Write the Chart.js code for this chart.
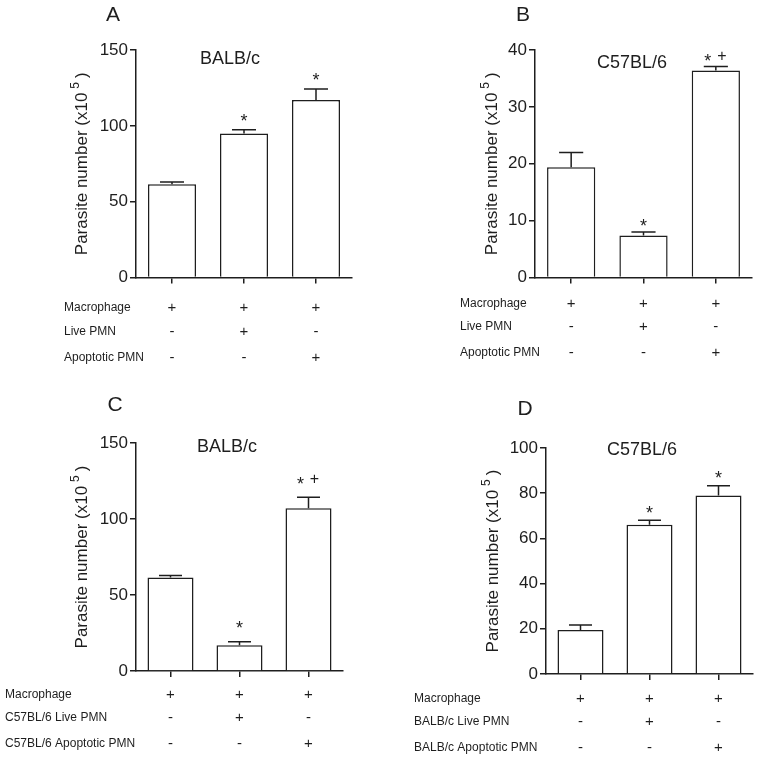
<!DOCTYPE html>
<html><head><meta charset="utf-8">
<script src="https://cdn.jsdelivr.net/npm/chart.js@4"></script>
<style>
html,body{margin:0;padding:0;background:#fff;}
#wrap{position:relative;width:757px;height:759px;background:#fff;}
canvas{position:absolute;left:0;top:0;}
</style></head><body>
<div id="wrap">
<canvas id="cA" width="757" height="759"></canvas>
<canvas id="cB" width="757" height="759"></canvas>
<canvas id="cC" width="757" height="759"></canvas>
<canvas id="cD" width="757" height="759"></canvas>
</div>
<script>
// ---------- data ----------
const categories = ['Macrophage', 'Macrophage + Live PMN', 'Macrophage + Apoptotic PMN'];

const valuesA = [61.5, 95, 117];
const semA    = [1.5, 2.5, 7.3];
const marksA  = ['', '*', '*'];
const ticksA  = [0, 50, 100, 150];

const valuesB = [19.4, 7.4, 36.4];
const semB    = [2.6, 0.6, 0.7];
const marksB  = ['', '*', '*+'];
const ticksB  = [0, 10, 20, 30, 40];

const valuesC = [61.5, 17, 107];
const semC    = [1.3, 2.2, 7.3];
const marksC  = ['', '*', '*+'];
const ticksC  = [0, 50, 100, 150];

const valuesD = [19.5, 66, 79];
const semD    = [2.2, 2, 4.3];
const marksD  = ['', '*', '*'];
const ticksD  = [0, 20, 40, 60, 80, 100];

const macrophageSigns = ['+', '+', '+'];
const liveSigns       = ['-', '+', '-'];
const apoptoticSigns  = ['-', '-', '+'];

const rowLabelsAB = ['Macrophage', 'Live PMN', 'Apoptotic PMN'];
const rowLabelsC  = ['Macrophage', 'C57BL/6 Live PMN', 'C57BL/6 Apoptotic PMN'];
const rowLabelsD  = ['Macrophage', 'BALB/c Live PMN', 'BALB/c Apoptotic PMN'];

const yTitleMain = 'Parasite number (x10';
const yTitleSup = '5';
const yTitleEnd = ')';

// ---------- layout ----------
const FONT = '"Liberation Sans", Arial, Helvetica, sans-serif';
const INK = '#1e1e1e';
const Y_BOX = 40;

const panels = [
  {canvas:'cA', letter:'A', strain:'BALB/c', values:valuesA, sem:semA, marks:marksA, ticks:ticksA, rowLabels:rowLabelsAB,
   area:{l:136, r:352, t:50, b:277.5}, letterPos:[113,15], titlePos:[230,59], yTitleX:82, rowLabelX:64, rowDy:[30,54,80], markGap:13},
  {canvas:'cB', letter:'B', strain:'C57BL/6', values:valuesB, sem:semB, marks:marksB, ticks:ticksB, rowLabels:rowLabelsAB,
   area:{l:535, r:752, t:50, b:277.5}, letterPos:[523,15], titlePos:[632,63], yTitleX:492, rowLabelX:460, rowDy:[26,49,75], markGap:10},
  {canvas:'cC', letter:'C', strain:'BALB/c', values:valuesC, sem:semC, marks:marksC, ticks:ticksC, rowLabels:rowLabelsC,
   area:{l:136, r:343, t:443, b:671}, letterPos:[115,405], titlePos:[227,447], yTitleX:82, rowLabelX:5, rowDy:[24,47,73], markGap:18},
  {canvas:'cD', letter:'D', strain:'C57BL/6', values:valuesD, sem:semD, marks:marksD, ticks:ticksD, rowLabels:rowLabelsD,
   area:{l:546, r:753, t:448, b:674}, letterPos:[525,409], titlePos:[642,450], yTitleX:493, rowLabelX:414, rowDy:[25,48,74], markGap:12}
];

function decorPlugin(p){
  return {
    id:'decor_'+p.letter,
    afterDatasetsDraw(chart){
      const ctx = chart.ctx;
      const ys = chart.scales.y;
      const meta = chart.getDatasetMeta(0);
      ctx.save();
      ctx.strokeStyle = INK;
      ctx.lineWidth = 1.5;
      meta.data.forEach((el, i) => {
        const yTop = ys.getPixelForValue(p.values[i] + p.sem[i]);
        const half = el.width / 4;
        ctx.beginPath();
        ctx.moveTo(el.x, el.y);
        ctx.lineTo(el.x, yTop);
        ctx.moveTo(el.x - half, yTop);
        ctx.lineTo(el.x + half, yTop);
        ctx.stroke();
        // significance marks
        const m = p.marks[i];
        if (m) {
          const cy = yTop - p.markGap;
          ctx.fillStyle = INK;
          ctx.textAlign = 'center';
          ctx.textBaseline = 'alphabetic';
          const hasPlus = m.indexOf('+') >= 0;
          const sx = hasPlus ? el.x - 8 : el.x;
          ctx.font = '18px ' + FONT;
          ctx.fillText('*', sx, cy + 0.58 * 18);
          if (hasPlus) {
            ctx.font = '16px ' + FONT;
            ctx.fillText('+', el.x + 6, cy - 1 + 0.33 * 16);
          }
        }
      });
      ctx.restore();
    },
    afterDraw(chart){
      const ctx = chart.ctx;
      const xs = chart.scales.x;
      ctx.save();
      ctx.fillStyle = INK;
      // panel letter
      ctx.font = '21px ' + FONT;
      ctx.textAlign = 'center';
      ctx.textBaseline = 'middle';
      ctx.fillText(p.letter, p.letterPos[0], p.letterPos[1]);
      // strain title
      ctx.font = '18px ' + FONT;
      ctx.fillText(p.strain, p.titlePos[0], p.titlePos[1]);
      // y axis title with superscript
      const cy = (chart.chartArea.top + chart.chartArea.bottom) / 2;
      ctx.translate(p.yTitleX, cy);
      ctx.rotate(-Math.PI / 2);
      ctx.font = '17px ' + FONT;
      const w1 = ctx.measureText(yTitleMain).width;
      const w3 = ctx.measureText(yTitleEnd).width;
      ctx.font = '12px ' + FONT;
      const w2 = ctx.measureText(yTitleSup).width;
      const gap1 = 4, gap2 = 4;
      const total = w1 + gap1 + w2 + gap2 + w3;
      let x0 = -total / 2;
      ctx.textAlign = 'left';
      ctx.textBaseline = 'middle';
      ctx.font = '17px ' + FONT;
      ctx.fillText(yTitleMain, x0, 0);
      ctx.font = '12px ' + FONT;
      ctx.fillText(yTitleSup, x0 + w1 + gap1, -6);
      ctx.font = '17px ' + FONT;
      ctx.fillText(yTitleEnd, x0 + w1 + gap1 + w2 + gap2, 0);
      ctx.setTransform(1, 0, 0, 1, 0, 0);
      // condition rows
      const rows = [macrophageSigns, liveSigns, apoptoticSigns];
      const base = chart.chartArea.bottom;
      rows.forEach((signs, r) => {
        const y = base + p.rowDy[r];
        ctx.textAlign = 'left';
        ctx.textBaseline = 'middle';
        ctx.font = '12px ' + FONT;
        ctx.fillText(p.rowLabels[r], p.rowLabelX, y);
        ctx.textAlign = 'center';
        ctx.font = '15px ' + FONT;
        signs.forEach((s, i) => {
          ctx.fillText(s, xs.getPixelForValue(i), y);
        });
      });
      ctx.restore();
    }
  };
}

function makeChart(p){
  const el = document.getElementById(p.canvas);
  return new Chart(el, {
    type:'bar',
    data:{
      labels: categories,
      datasets:[{
        data: p.values,
        backgroundColor:'#ffffff',
        borderColor: INK,
        borderWidth: 1.5,
        barPercentage: 0.667,
        categoryPercentage: 1
      }]
    },
    options:{
      responsive:false,
      maintainAspectRatio:false,
      animation:false,
      devicePixelRatio:1,
      layout:{padding:{left:p.area.l - Y_BOX, top:p.area.t, right:757 - p.area.r, bottom:0}},
      plugins:{legend:{display:false}, tooltip:{enabled:false}, title:{display:false}},
      scales:{
        x:{
          offset:true,
          grid:{display:true, offset:false, drawOnChartArea:false, drawTicks:true, tickLength:6, color:INK, lineWidth:1.5},
          border:{display:true, color:INK, width:1.5},
          ticks:{display:false},
          afterFit:(s) => { s.height = 759 - p.area.b; }
        },
        y:{
          min: p.ticks[0],
          max: p.ticks[p.ticks.length - 1],
          afterBuildTicks:(s) => { s.ticks = p.ticks.map(v => ({value:v})); },
          grid:{display:true, drawOnChartArea:false, drawTicks:true, tickLength:6, color:INK, lineWidth:1.5},
          border:{display:true, color:INK, width:1.5},
          ticks:{font:{family:FONT, size:17}, color:INK, padding:2},
          afterFit:(s) => { s.width = Y_BOX; }
        }
      }
    },
    plugins:[decorPlugin(p)]
  });
}

panels.forEach(makeChart);
</script>
</body></html>
